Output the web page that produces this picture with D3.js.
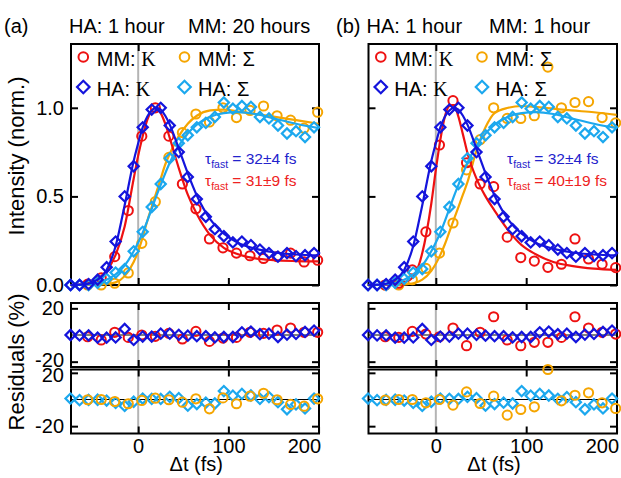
<!DOCTYPE html>
<html>
<head>
<meta charset="utf-8">
<script src="https://cdn.jsdelivr.net/npm/d3@7"></script>
<style>
  body { margin: 0; background: #fff; }
  svg { display: block; font-family: "Liberation Sans", Arial, sans-serif; }
</style>
</head>
<body>
<div id="chart"></div>
<script>
// ---- values ----
// HA sample (same measurement in both panels), every 10 fs
var haT = [-75,-65,-55,-45,-35,-25,-15,-5,5,15,25,35,45,55,65,75,85,95,105,115,125,135,145,155,165,175,185,195];
var haK = [0,0,0.005,0.03,0.10,0.245,0.50,0.67,0.89,0.99,1.0,0.90,0.75,0.61,0.485,0.385,0.315,0.275,0.24,0.245,0.225,0.20,0.18,0.16,0.18,0.163,0.168,0.18];
var haS = [0,0,0,0.012,0.035,0.07,0.09,0.19,0.30,0.44,0.57,0.715,0.80,0.845,0.89,0.915,0.948,1.03,0.995,1.01,1.005,0.948,0.94,0.90,0.855,0.868,0.835,0.89];
var haKRes = [0,-0.3,-0.3,-2,-2,-1.8,4.5,-3.7,-1.2,-1.2,1,1,0.1,-0.5,-0.9,-0.9,-1.8,-1.5,-1.5,2,2.6,0.6,1,-1.5,0.3,0.8,2.3,3.3];
var haSRes = [0.7,-0.5,-0.3,-0.2,-0.8,-2.5,-4.8,-1.7,0.7,0.5,0.4,2,1,-4.6,-3.4,-2.4,-3,6.3,2.9,4.2,3,0.5,1.8,-2,-7.3,-3.7,-6.7,0.7];

// MM samples, every 15 fs
var mmT = [-56,-41,-26,-11,4,19,34,49,64,79,94,109,124,139,154,169,184,199];
var mmKa = [0.005,0.04,0.16,0.42,0.84,1.0,0.84,0.57,0.43,0.26,0.21,0.18,0.165,0.15,0.16,0.18,0.13,0.14];
var mmSa = [0,0,0.01,0.068,0.235,0.47,0.72,0.86,0.965,0.92,1.0,0.945,0.985,1.01,0.955,0.93,0.885,0.975];
var mmKResA = [-1.3,-3.7,2,-1.8,0,-1,1.2,-3,2.7,-4.8,-2.3,-1.8,2,1.2,3.7,5.2,2,2];
var mmSResA = [-0.2,0,-1.5,-3.2,-0.7,1,-0.2,-2,0.5,-7,1.2,-3.2,2.5,4.7,-0.2,-3.7,-5,0.5];
var mmKb = [0,0.01,0.085,0.30,0.79,1.04,0.69,0.57,0.555,0.27,0.155,0.135,0.10,0.117,0.26,0.147,0.117,0.098];
var mmSb = [0,0,0.03,0.094,0.18,0.35,0.65,0.82,1.0,0.94,0.94,0.955,1.23,1.0,1.03,1.035,0.945,0.915];
var mmKResB = [-1.3,-1.8,2.7,0.7,-1.3,5.2,-8,2,13.7,-3.7,-8,-5.5,-5.5,-1.8,13.7,5.2,2,0.7];
var mmSResB = [-0.5,0,0,-2.5,0,-4.2,5.7,-3,2.5,-11.7,-7.5,-5.5,22.5,-1,3.2,5,-2.5,-6.7];

// fit curves
var fitT = [-75,-60,-45,-35,-25,-15,-5,0,5,10,15,20,25,30,35,45,55,65,80,95,110,130,150,175,200];
var fitHaK = [0,0.003,0.03,0.085,0.22,0.45,0.70,0.80,0.89,0.95,0.985,1.0,0.99,0.955,0.905,0.77,0.63,0.505,0.37,0.29,0.24,0.205,0.185,0.172,0.167];
var fitHaS = [0,0.002,0.012,0.03,0.06,0.11,0.19,0.24,0.295,0.36,0.43,0.5,0.565,0.63,0.69,0.785,0.855,0.905,0.95,0.97,0.975,0.965,0.94,0.91,0.885];
var fitMmKa = [0,0.005,0.035,0.08,0.17,0.33,0.6,0.73,0.84,0.93,0.985,1.0,0.97,0.91,0.83,0.66,0.51,0.40,0.28,0.21,0.175,0.15,0.14,0.135,0.133];
var fitMmSa = [0,0,0.002,0.006,0.015,0.05,0.13,0.19,0.27,0.36,0.44,0.52,0.6,0.68,0.74,0.84,0.91,0.955,0.985,0.99,0.98,0.965,0.95,0.93,0.91];
var fitMmKb = [0,0,0.005,0.015,0.045,0.18,0.46,0.65,0.82,0.95,1.01,1.015,0.95,0.85,0.745,0.6,0.5,0.42,0.31,0.225,0.175,0.13,0.108,0.092,0.085];
var fitMmSb = [0,0,0,0.003,0.01,0.03,0.08,0.12,0.17,0.23,0.3,0.37,0.44,0.51,0.58,0.76,0.89,0.97,1.0,1.01,1.005,0.995,0.985,0.975,0.96];

var xTicks = [0, 100, 200];
var yTicks = [0, 0.5, 1.0];
var resTicks = [-20, 20];

var width = 621, height = 478;
var colMMK = '#ee1111', colMMS = '#f5a500', colHAK = '#1414dc', colHAS = '#1ca8ee';

var svg = d3.select('#chart').append('svg')
    .attr('width', width)
    .attr('height', height);

var yMain = d3.scaleLinear().domain([0, 1.36]).range([285, 44]);
var yRes1 = d3.scaleLinear().domain([-24, 24]).range([367, 303]);
var yRes2 = d3.scaleLinear().domain([-25.5, 22.5]).range([433.5, 369.5]);

var panels = [
  {x0: 71, x1: 319, tag: '(a)', tagX: 4, mmLabel: 'MM: 20 hours', mmX: 188,
   mmK: mmKa, mmS: mmSa, mmKRes: mmKResA, mmSRes: mmSResA, fitK: fitMmKa, fitS: fitMmSa,
   tau: ['32±4', '31±9'], tauX: 205, labels: true},
  {x0: 368.5, x1: 617, tag: '(b)', tagX: 336, mmLabel: 'MM: 1 hour', mmX: 489,
   mmK: mmKb, mmS: mmSb, mmKRes: mmKResB, mmSRes: mmSResB, fitK: fitMmKb, fitS: fitMmSb,
   tau: ['32±4', '40±19'], tauX: 507, labels: false}
];

function zip(t, v) { return t.map(function(d, i) { return [d, v[i]]; }); }

function circles(g, x, y, pts, col, r) {
  g.selectAll(null).data(pts).enter().append('circle')
    .attr('cx', function(d) { return x(d[0]); })
    .attr('cy', function(d) { return y(d[1]); })
    .attr('r', r || 4.6)
    .attr('fill', 'none').attr('stroke', col).attr('stroke-width', 2);
}

function diamonds(g, x, y, pts, col, size) {
  var sym = d3.symbol(d3.symbolSquare, size || 52);
  g.selectAll(null).data(pts).enter().append('path')
    .attr('d', sym)
    .attr('transform', function(d) { return 'translate(' + x(d[0]) + ',' + y(d[1]) + ') rotate(45)'; })
    .attr('fill', 'none').attr('stroke', col).attr('stroke-width', 2.2);
}

function styleAxis(g) {
  g.select('.domain').remove();
  g.selectAll('.tick line').attr('stroke', '#000').attr('stroke-width', 2);
  g.selectAll('.tick text').attr('fill', '#000').style('font-size', '20px')
    .style('font-family', '"Liberation Sans", Arial, sans-serif');
}

function drawPanel(p) {
  var x = d3.scaleLinear().domain([-74.5, 200.5]).range([p.x0, p.x1]);
  var g = svg.append('g');
  var boxes = [
    {y: yMain, ticks: yTicks, fmt: d3.format('.1f')},
    {y: yRes1, ticks: resTicks, fmt: function(d) { return String(d); }},
    {y: yRes2, ticks: resTicks, fmt: function(d) { return String(d); }}
  ];

  boxes.forEach(function(b, bi) {
    var yr = b.y.range();
    // grey line at time zero
    g.append('line')
      .attr('x1', x(0)).attr('x2', x(0))
      .attr('y1', yr[1]).attr('y2', yr[0])
      .attr('stroke', '#b4b4b4').attr('stroke-width', 2);
    if (bi > 0) {
      g.append('line')
        .attr('x1', p.x0).attr('x2', p.x1)
        .attr('y1', b.y(0)).attr('y2', b.y(0))
        .attr('stroke', '#000').attr('stroke-width', 1.2);
    }
    var left = g.append('g').attr('transform', 'translate(' + p.x0 + ',0)')
      .call(d3.axisLeft(b.y).tickValues(b.ticks).tickSize(-7).tickPadding(7)
        .tickFormat(p.labels ? b.fmt : ''));
    styleAxis(left);
    // the stacked residual labels sit tight against each other: pull them apart a little
    if (bi === 1) left.selectAll('.tick text').filter(function(d) { return d < 0; }).attr('y', -2);
    if (bi === 2) left.selectAll('.tick text').filter(function(d) { return d > 0; }).attr('y', 2);
    var right = g.append('g').attr('transform', 'translate(' + p.x1 + ',0)')
      .call(d3.axisRight(b.y).tickValues(b.ticks).tickSize(-7).tickFormat(''));
    styleAxis(right);
    var top = g.append('g').attr('transform', 'translate(0,' + yr[1] + ')')
      .call(d3.axisTop(x).tickValues([0, 100]).tickSize(-7).tickFormat(''));
    styleAxis(top);
    var bottom = g.append('g').attr('transform', 'translate(0,' + yr[0] + ')')
      .call(d3.axisBottom(x).tickValues(bi === 2 ? xTicks : [0, 100]).tickSize(-7).tickPadding(5)
        .tickFormat(bi === 2 ? d3.format('d') : ''));
    styleAxis(bottom);
    if (bi === 2) {
      bottom.selectAll('.tick text').filter(function(d) { return d === 200; })
        .attr('text-anchor', 'end').attr('x', 2);
    }
    g.append('rect')
      .attr('x', p.x0).attr('y', yr[1])
      .attr('width', p.x1 - p.x0).attr('height', yr[0] - yr[1])
      .attr('fill', 'none').attr('stroke', '#000').attr('stroke-width', 2);
  });

  var line = d3.line()
    .x(function(d) { return x(d[0]); })
    .y(function(d) { return yMain(d[1]); })
    .curve(d3.curveMonotoneX);

  function fit(vals, col) {
    g.append('path').datum(zip(fitT, vals)).attr('d', line)
      .attr('fill', 'none').attr('stroke', col).attr('stroke-width', 2.2);
  }

  // main panel: data and fits
  circles(g, x, yMain, zip(mmT, p.mmS), colMMS);
  fit(p.fitS, colMMS);
  circles(g, x, yMain, zip(mmT, p.mmK), colMMK);
  fit(p.fitK, colMMK);
  diamonds(g, x, yMain, zip(haT, haS), colHAS);
  fit(fitHaS, colHAS);
  diamonds(g, x, yMain, zip(haT, haK), colHAK);
  fit(fitHaK, colHAK);

  // residuals
  circles(g, x, yRes1, zip(mmT, p.mmKRes), colMMK);
  diamonds(g, x, yRes1, zip(haT, haKRes), colHAK);
  diamonds(g, x, yRes2, zip(haT, haSRes), colHAS);
  circles(g, x, yRes2, zip(mmT, p.mmSRes), colMMS);

  // legend
  var lg = g.append('g').style('font-size', '20px');
  var lx = p.x0;
  var items = [
    {dx: 12.3, y: 57, col: colMMK, circ: true, txt: 'MM: ', sym: 'Κ', serif: true},
    {dx: 113.5, y: 57, col: colMMS, circ: true, txt: 'MM: ', sym: 'Σ', serif: false},
    {dx: 12.3, y: 87, col: colHAK, circ: false, txt: 'HA: ', sym: 'Κ', serif: true},
    {dx: 113.5, y: 87, col: colHAS, circ: false, txt: 'HA: ', sym: 'Σ', serif: false}
  ];
  items.forEach(function(it) {
    if (it.circ) {
      lg.append('circle').attr('cx', lx + it.dx).attr('cy', it.y).attr('r', 4.8)
        .attr('fill', 'none').attr('stroke', it.col).attr('stroke-width', 2);
    } else {
      lg.append('path').attr('d', d3.symbol(d3.symbolSquare, 78))
        .attr('transform', 'translate(' + (lx + it.dx) + ',' + it.y + ') rotate(45)')
        .attr('fill', 'none').attr('stroke', it.col).attr('stroke-width', 2.2);
    }
    var t = lg.append('text').attr('x', lx + it.dx + 13.5).attr('y', it.y + 8.5).attr('fill', '#000');
    t.append('tspan').text(it.txt);
    t.append('tspan').text(it.sym)
      .style('font-family', it.serif ? '"Liberation Serif", "Times New Roman", serif' : null);
  });

  // time constants
  [[p.tau[0], '#2323cc', 164], [p.tau[1], '#ee2222', 185.5]].forEach(function(r) {
    var t = g.append('text').attr('x', p.tauX).attr('y', r[2]).attr('fill', r[1])
      .style('font-size', '15.5px');
    t.append('tspan').text('τ');
    t.append('tspan').text('fast').style('font-size', '10.5px').attr('dy', 4);
    t.append('tspan').text(' = ' + r[0] + ' fs').attr('dy', -4);
  });

  // headings
  var hd = g.append('g').style('font-size', '20px').attr('fill', '#000');
  hd.append('text').attr('x', p.tagX).attr('y', 33).text(p.tag);
  hd.append('text').attr('x', p.x0 - 2).attr('y', 33).text('HA: 1 hour');
  hd.append('text').attr('x', p.mmX).attr('y', 33).text(p.mmLabel);

  // x title
  g.append('text').attr('x', (x(0) + x(100)) / 2 + 13).attr('y', 471)
    .attr('text-anchor', 'middle').style('font-size', '20px').text('Δt (fs)');
}

panels.forEach(drawPanel);

// y titles
svg.append('text').attr('transform', 'translate(24,156) rotate(-90)')
  .attr('text-anchor', 'middle').style('font-size', '22px').text('Intensity (norm.)');
svg.append('text').attr('transform', 'translate(24,362) rotate(-90)')
  .attr('text-anchor', 'middle').style('font-size', '22px').text('Residuals (%)');
</script>
</body>
</html>
